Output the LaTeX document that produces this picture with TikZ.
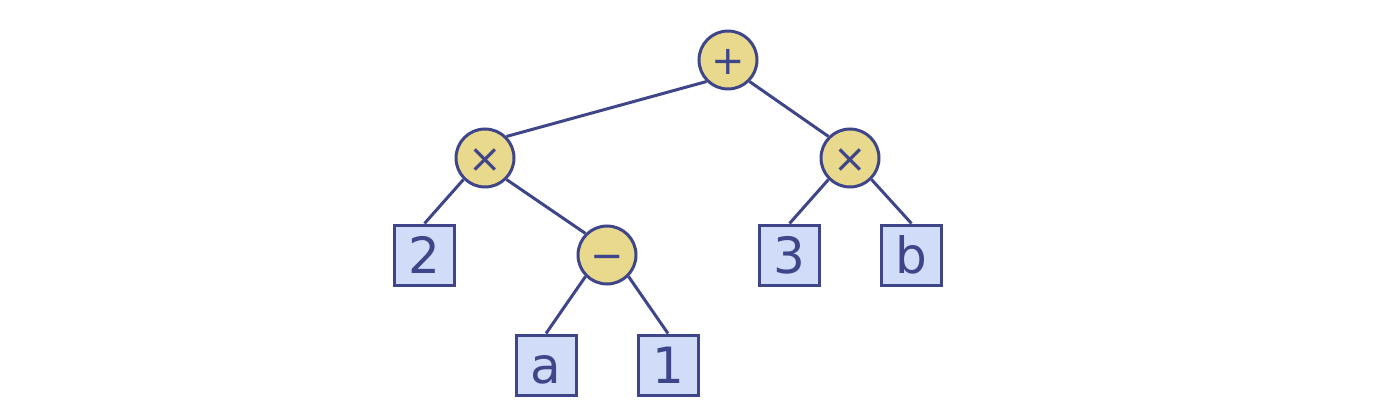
\documentclass[tikz,border=0pt]{standalone}
\usepackage{fontspec}
\setmainfont{DejaVu Sans}
\definecolor{ink}{HTML}{3F4589}
\definecolor{opfill}{HTML}{E8D98D}
\definecolor{leaffill}{HTML}{D1DDF8}
\begin{document}
\begin{tikzpicture}[x=1pt,y=-1pt,
  op/.style={circle,draw=ink,fill=opfill,line width=3pt,minimum size=58pt,inner sep=0pt,text=ink,font=\fontsize{40}{46}\selectfont,text height=28.8pt,text depth=0pt},
  leaf/.style={rectangle,draw=ink,fill=leaffill,line width=3pt,minimum size=60pt,inner sep=0pt,text=ink,font=\fontsize{50}{56}\selectfont,text height=36.5pt,text depth=0pt},
  edge/.style={draw=ink,line width=3pt}]
\useasboundingbox (0,0) rectangle (1398,420);
\node[op] (plus) at (728,60) {+};
\node[op] (tl) at (485,158) {×};
\node[op] (tr) at (850,158) {×};
\node[leaf] (two) at (424.5,255) {2};
\node[op] (minus) at (607,255) {−};
\node[leaf] (three) at (789.5,255) {3};
\node[leaf] (b) at (911.5,255) {b};
\node[leaf] (a) at (546,365) {a};
\node[leaf] (one) at (668,365) {1};
\draw[edge] (plus.south west) -- (tl.north east);
\draw[edge] (plus.south east) -- (tr.north west);
\draw[edge] (tl.south west) -- (two.north);
\draw[edge] (tl.south east) -- (minus.north west);
\draw[edge] (tr.south west) -- (three.north);
\draw[edge] (tr.south east) -- (b.north);
\draw[edge] (minus.south west) -- (a.north);
\draw[edge] (minus.south east) -- (one.north);
\end{tikzpicture}
\end{document}
